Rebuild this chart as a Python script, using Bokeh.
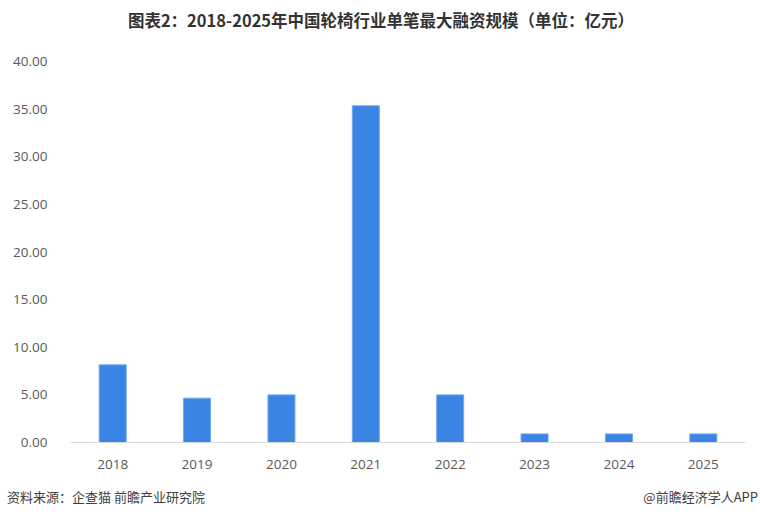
from bokeh.plotting import figure
from bokeh.layouts import column
from bokeh.models import ColumnDataSource, CustomJSTickFormatter, Div
from bokeh.embed import file_html
from bokeh.resources import INLINE

years = ["2018", "2019", "2020", "2021", "2022", "2023", "2024", "2025"]
values = [8.15, 4.65, 5.0, 35.35, 5.0, 0.9, 0.9, 0.9]
y_ticks = [0, 5, 10, 15, 20, 25, 30, 35, 40]

title_text = "图表2：2018-2025年中国轮椅行业单笔最大融资规模（单位：亿元）"
source_text = "资料来源：企查猫 前瞻产业研究院"
credit_text = "@前瞻经济学人APP"

W = 760
HEAD_H, MAIN_H, FOOT_H = 40, 435, 44
FONT = "'Noto Sans CJK SC', sans-serif"

head = Div(
    text=(f'<div style="position:relative;width:{W}px;height:{HEAD_H}px;">'
          f'<span style="position:absolute;left:1px;width:{W}px;top:0;'
          f'line-height:{HEAD_H}px;text-align:center;font-family:{FONT};'
          f'font-size:16.5px;font-weight:bold;color:#333333;white-space:nowrap;">'
          f'{title_text}</span></div>'),
    width=W, height=HEAD_H, margin=0)

BL, BR, BT, BB = 70, 15, 21, 33
p = figure(x_range=years, y_range=(0, 40), width=W, height=MAIN_H,
           output_backend="svg", toolbar_location=None,
           min_border_left=BL, min_border_right=BR,
           min_border_top=BT, min_border_bottom=BB, margin=0)

src = ColumnDataSource(dict(x=years, top=values))
p.vbar(x="x", top="top", width=0.32, source=src,
       fill_color="#3A85E4", line_color="#6FA6EC", line_width=1)

p.outline_line_color = None
p.grid.grid_line_color = None
p.x_range.range_padding = 0

p.yaxis.ticker = y_ticks
p.yaxis.formatter = CustomJSTickFormatter(code="return tick.toFixed(2);")
p.yaxis.axis_line_color = None
p.yaxis.major_tick_line_color = None
p.yaxis.minor_tick_line_color = None
p.yaxis.major_label_standoff = 17
p.yaxis.major_label_text_font = "Open Sans"
p.yaxis.major_label_text_font_size = "13.5px"
p.yaxis.major_label_text_color = "#595959"

p.xaxis.axis_line_color = "#D9D9D9"
p.xaxis.axis_line_width = 1
p.xaxis.major_tick_line_color = None
p.xaxis.minor_tick_line_color = None
p.xaxis.major_label_standoff = 11
p.xaxis.major_label_text_font = "Open Sans"
p.xaxis.major_label_text_font_size = "13.5px"
p.xaxis.major_label_text_color = "#595959"

foot = Div(
    text=(f'<div style="position:relative;width:{W}px;height:{FOOT_H}px;'
          f'font-family:{FONT};font-size:13px;color:#404040;">'
          f'<span style="position:absolute;left:7px;top:0;line-height:{FOOT_H}px;white-space:nowrap;">'
          f'{source_text}</span>'
          f'<span style="position:absolute;right:2px;top:0;line-height:{FOOT_H}px;white-space:nowrap;">'
          f'{credit_text}</span></div>'),
    width=W, height=FOOT_H, margin=0)

layout = column(head, p, foot, spacing=0)
open("out.html", "w").write(file_html(layout, INLINE))
